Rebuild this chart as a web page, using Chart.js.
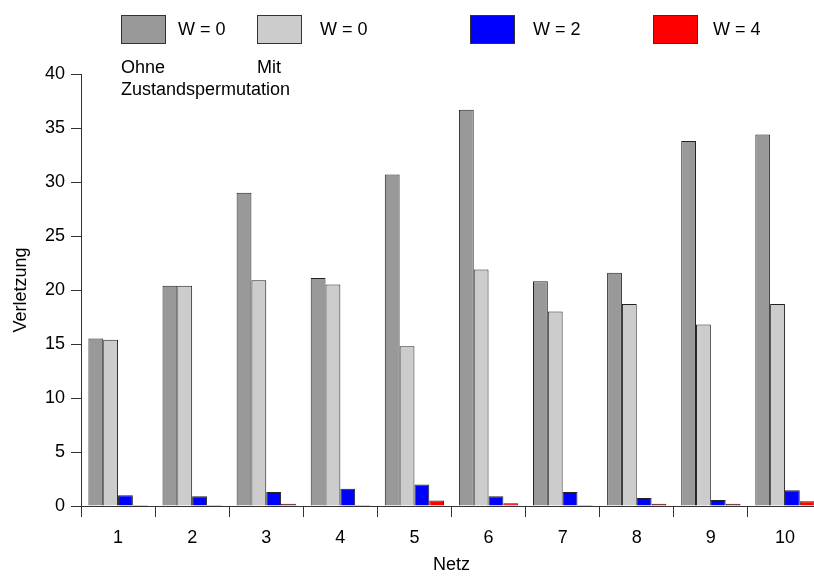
<!DOCTYPE html>
<html>
<head>
<meta charset="utf-8">
<script src="https://cdn.jsdelivr.net/npm/chart.js@4"></script>
<style>
  html, body { margin: 0; padding: 0; background: #fff; overflow: hidden; }
  #wrap { width: 822px; height: 576px; }
</style>
</head>
<body>
<div id="wrap"><canvas id="c"></canvas></div>
<script>
// Daten
const netze = ['1', '2', '3', '4', '5', '6', '7', '8', '9', '10'];
const ohneW0 = [15.5, 20.4, 29.0, 21.1, 30.7, 36.7, 20.8, 21.6, 33.8, 34.4];
const mitW0  = [15.4, 20.4, 20.9, 20.5, 14.8, 21.9, 18.0, 18.7, 16.8, 18.7];
const mitW2  = [1.0, 0.9, 1.3, 1.6, 2.0, 0.9, 1.3, 0.75, 0.55, 1.45];
const mitW4  = [0.1, 0.1, 0.2, 0.1, 0.5, 0.25, 0.1, 0.2, 0.2, 0.45];
const legendLabels = ['W = 0', 'W = 0', 'W = 2', 'W = 4'];
const farben = ['#999999', '#cccccc', '#0000ff', '#ff0000'];

const FONT = '"Liberation Sans", Arial, sans-serif';

// Legende und Beschriftung oben
const legendPlugin = {
    id: 'eigeneLegende',
    afterDraw(chart) {
        const ctx = chart.ctx;
        const boxX = [121, 257, 470, 653];
        const textX = [178, 320, 533, 713];
        ctx.save();
        ctx.font = '18px ' + FONT;
        ctx.textBaseline = 'middle';
        legendLabels.forEach((lbl, i) => {
            ctx.fillStyle = farben[i];
            ctx.fillRect(boxX[i] + 0.5, 15.5, 44, 28);
            ctx.strokeStyle = '#333';
            ctx.lineWidth = 1;
            ctx.strokeRect(boxX[i] + 0.5, 15.5, 44, 28);
            ctx.fillStyle = '#000';
            ctx.fillText(lbl, textX[i], 30);
        });
        ctx.textBaseline = 'alphabetic';
        ctx.fillText('Ohne', 121, 73);
        ctx.fillText('Mit', 257, 73);
        ctx.fillText('Zustandspermutation', 121, 95);
        ctx.restore();
    }
};

const datasets = [ohneW0, mitW0, mitW2, mitW4].map((werte, i) => ({
    label: legendLabels[i],
    data: werte,
    backgroundColor: farben[i],
    borderColor: '#222',
    borderWidth: 1,
    categoryPercentage: 0.8,
    barPercentage: 1.0
}));

new Chart(document.getElementById('c'), {
    type: 'bar',
    data: { labels: netze, datasets: datasets },
    options: {
        responsive: true,
        maintainAspectRatio: false,
        animation: false,
        layout: { padding: { top: 74, left: 0, right: 0, bottom: 0 } },
        plugins: {
            legend: { display: false },
            tooltip: { enabled: false }
        },
        scales: {
            x: {
                offset: true,
                grid: {
                    offset: true,
                    drawOnChartArea: false,
                    drawTicks: true,
                    tickLength: 11,
                    color: '#333'
                },
                border: { display: true, color: '#333', width: 1 },
                ticks: { color: '#000', font: { family: FONT, size: 18 }, padding: 10 },
                title: {
                    display: true,
                    text: 'Netz',
                    color: '#000',
                    font: { family: FONT, size: 18 },
                    padding: { top: 8, bottom: 0 }
                },
                afterFit(scale) { scale.height = 70; }
            },
            y: {
                min: 0,
                max: 40,
                ticks: {
                    stepSize: 5,
                    color: '#000',
                    font: { family: FONT, size: 18 },
                    padding: 6
                },
                grid: {
                    drawOnChartArea: false,
                    drawTicks: true,
                    tickLength: 10,
                    color: '#333'
                },
                border: { display: true, color: '#333', width: 1 },
                title: {
                    display: true,
                    text: 'Verletzung',
                    color: '#000',
                    font: { family: FONT, size: 18 },
                    padding: { top: 10, bottom: 4 }
                },
                afterFit(scale) { scale.width = 81; }
            }
        }
    },
    plugins: [legendPlugin]
});
</script>
</body>
</html>
